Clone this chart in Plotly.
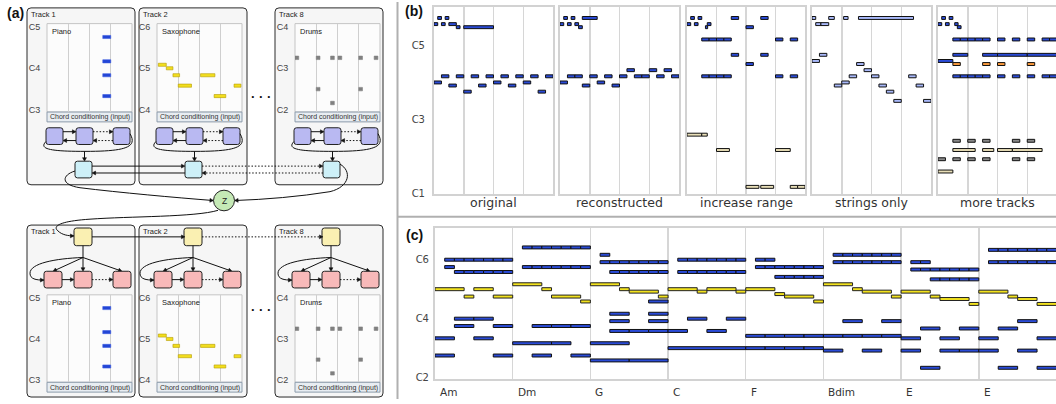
import math
import plotly.graph_objects as go

W, H = 1056, 404
FA = "Liberation Sans"
FB = "DejaVu Sans"

# ---------------- DATA ----------------
# notes are (start, duration, MIDI pitch); panel (a)/(b) time in beats, panel (c) in eighths
A_TRACKS = ["Track 1", "Track 2", "Track 8"]
A_INSTRUMENTS = ["Piano", "Saxophone", "Drums"]
A_PITCH_LABELS = [["C3", "C4", "C5"], ["C4", "C5", "C6"], ["C2", "C3", "C4"]]
A_LOWEST_C = [48, 60, 36]
A_PIANO = [(10.5, 1.5, 69), (10.5, 1.5, 62), (10.5, 1.5, 58), (10.5, 1.5, 52)]
A_SAX = [(0.25, 1.5, 73), (1.75, 1.25, 72), (3, 1.25, 70), (4, 2.5, 67),
         (8.2, 2.7, 70), (10.75, 2.2, 64), (14.5, 1.3, 67)]
A_DRUMS = [(0, 0.7, 51), (4, 0.7, 51), (6.7, 0.7, 51), (8.1, 0.7, 51), (12, 0.7, 51),
           (14.9, 0.7, 51), (4, 0.7, 42), (12, 0.7, 42), (6.7, 0.7, 38)]

B_TITLES = ["original", "reconstructed", "increase range", "strings only", "more tracks"]
B_ORIGINAL = [(0, 0.5, 79), (0.5, 0.5, 81), (1, 0.5, 79), (1.5, 0.5, 81), (2, 1, 79), (3, 0.5, 78), (4, 4, 78),
              (0, 1, 60), (1, 1, 62), (2, 1, 59), (3, 1, 62), (4, 1, 57), (5, 1, 62), (6, 1, 59), (7, 1, 62),
              (8, 1, 60), (9, 1, 62), (10, 1, 59), (11, 1, 62), (12, 1, 60), (13, 1, 62), (14, 1, 57), (15, 1, 62)]
B_RECON = [(0, 0.5, 79), (0.5, 0.5, 81), (1, 0.5, 79), (1.5, 0.5, 81), (2, 0.5, 79), (2.5, 0.5, 78), (3, 2, 81),
           (0, 1, 60), (1, 1, 62), (2, 1, 62), (3, 1, 59), (4, 1, 62), (5, 1, 60), (6, 1, 62), (7, 1, 59),
           (8, 1, 62), (9, 1, 64), (10, 1, 62), (11, 1, 62), (12, 1, 64), (13, 1, 62), (14, 1, 64), (15, 1, 62)]
B_RANGE_BLUE = [(0, 0.5, 79), (0.5, 0.5, 81), (1, 0.5, 79), (1.5, 0.5, 81), (2.5, 0.3, 78), (2.75, 0.5, 79),
                (2, 1, 74), (3, 1, 74), (4, 1, 74), (5, 1, 74), (12, 1, 74), (14, 1, 74),
                (2, 1, 62), (3, 1, 62), (4, 1, 62), (5, 1, 62), (12, 1, 62), (14, 1, 62),
                (6, 1, 81), (10, 1, 81), (8, 1, 78), (6, 1, 69), (10, 1, 69), (8, 1, 66)]
B_RANGE_TAN = [(0, 2, 43), (2, 0.75, 43), (4, 1.75, 38), (12, 2, 38),
               (8, 1.75, 26), (10, 1.75, 26), (14, 1, 26), (15, 1, 26)]
B_STRINGS = [(0, 0.5, 81), (2.25, 0.75, 81), (4.25, 0.6, 81), (6.25, 7.4, 81),
             (0.5, 0.7, 79), (1.2, 1.05, 79), (1, 1, 69), (0, 1, 67), (6, 1, 66), (7, 1, 64),
             (5, 1, 62), (8, 1, 62), (13, 1, 62), (4, 1, 60), (3, 1, 59), (9, 1, 59), (14, 1, 59),
             (10, 1, 57), (11, 1, 54), (15, 1, 54)]
B_MORE_BLUE = [(0, 0.5, 79), (0.5, 0.5, 81), (1, 0.5, 79), (1.5, 0.5, 81), (2.25, 0.45, 79), (2.6, 0.5, 78),
               (2, 1, 74), (3, 1, 74), (4, 1, 74), (5, 1, 74), (6, 1, 74), (8, 1, 74), (10, 1, 74),
               (12, 1, 74), (14, 1, 74), (15, 1, 74),
               (2, 1, 62), (3, 1, 62), (4, 1, 62), (5, 1, 62), (6, 1, 62), (8, 1, 62), (10, 1, 62),
               (12, 1, 62), (14, 1, 62), (15, 1, 62),
               (2, 2, 69), (6, 2, 69), (8, 4, 69), (12, 4, 69), (0, 2, 67)]
B_MORE_ORANGE = [(2, 1, 66), (6, 1, 66), (8, 1, 66), (12, 1, 66)]
B_MORE_GRAY = [(2, 1, 41), (4, 1, 41), (6, 1, 41), (10, 1, 41), (12, 1, 41),
               (0, 1, 35), (2, 1, 35), (4, 1, 35), (6, 1, 35), (10, 1, 35), (12, 1, 35)]
B_MORE_TAN = [(2, 3, 38), (6, 1.5, 38), (8, 2, 38), (10, 4, 38), (0, 2, 31)]

C_CHORDS = ["Am", "Dm", "G", "C", "F", "Bdim", "E", "E"]
C_MELODY = [(0, 3, 72), (3, 1, 69), (4, 2, 72), (6, 2, 69), (8, 3, 74), (11, 1, 72), (12, 3, 69), (15, 1, 67),
            (16, 3, 74), (19, 1, 72), (20, 3, 71), (23, 1, 69), (24, 3, 72), (27, 1, 71), (28, 3, 72), (31, 1, 71),
            (32, 3, 72), (35, 1, 70), (36, 3, 69), (39, 1, 67), (40, 3, 74), (43, 1, 72), (44, 3, 71), (47, 1, 69),
            (48, 3, 71), (51, 1, 69), (52, 3, 68), (55, 1, 66), (56, 3, 71), (59, 1, 69), (60, 2, 68), (62, 2, 66)]
C_UPPER = [(9, 1, 89), (10, 1, 89), (11, 1, 89), (12, 1, 89), (13, 1, 89), (14, 1, 89), (15, 1, 89),
           (57, 1, 88), (58, 1, 88), (59, 1, 88), (60, 1, 88), (61, 1, 88), (62, 1, 88), (63, 1, 88),
           (17, 1, 86), (41, 1, 86), (42, 1, 86), (43, 1, 86), (44, 1, 86), (45, 1, 86), (46, 1, 86), (47, 1, 86),
           (1, 1, 84), (2, 1, 84), (3, 1, 84), (4, 1, 84), (5, 1, 84), (6, 1, 84), (7, 1, 84),
           (25, 1, 84), (26, 1, 84), (27, 1, 84), (28, 1, 84), (29, 1, 84), (30, 1, 84), (31, 1, 84),
           (33, 1, 84), (34, 1, 84),
           (17, 1, 83), (18, 1, 83), (19, 1, 83), (20, 1, 83), (21, 1, 83), (22, 1, 83), (23, 1, 83),
           (41, 1, 83), (42, 1, 83), (43, 1, 83), (44, 1, 83), (45, 1, 83), (46, 1, 83), (47, 1, 83),
           (49, 1, 83), (50, 1, 83),
           (57, 1, 83), (58, 1, 83), (59, 1, 83), (60, 1, 83), (61, 1, 83), (62, 1, 83), (63, 1, 83),
           (1, 1, 81), (9, 1, 81), (10, 1, 81), (11, 1, 81), (12, 1, 81), (13, 1, 81), (14, 1, 81), (15, 1, 81),
           (33, 1, 81), (34, 1, 81), (35, 1, 81), (36, 1, 81), (37, 1, 81), (38, 1, 81), (39, 1, 81),
           (49, 1, 80), (50, 1, 80), (51, 1, 80), (52, 1, 80), (53, 1, 80), (54, 1, 80), (55, 1, 80),
           (2, 1, 79), (3, 1, 79), (4, 1, 79), (5, 1, 79), (6, 1, 79), (7, 1, 79),
           (18, 1, 79), (19, 1, 79), (20, 1, 79), (21, 1, 79), (22, 1, 79), (23, 1, 79),
           (25, 1, 79), (26, 1, 79), (27, 1, 79), (28, 1, 79), (29, 1, 79), (30, 1, 79), (31, 1, 79),
           (35, 1, 77), (36, 1, 77), (37, 1, 77), (38, 1, 77), (39, 1, 77),
           (51, 1, 76), (52, 1, 76), (53, 1, 76), (54, 1, 76), (55, 1, 76)]
C_LOWER = [(22, 2, 67), (18, 2, 62), (22, 2, 62),
           (2, 2, 60), (4, 2, 60), (26, 2, 60), (30, 2, 60),
           (18, 2, 59), (22, 2, 59), (42, 2, 59), (46, 2, 59), (60, 2, 59),
           (2, 2, 57), (6, 2, 57), (10, 2, 57), (12, 2, 57), (14, 2, 57),
           (50, 2, 56), (54, 2, 56), (58, 2, 56),
           (18, 2, 55), (20, 2, 55), (22, 2, 55), (24, 2, 55), (28, 2, 55),
           (32, 2, 53), (34, 2, 53), (36, 2, 53), (38, 2, 53), (40, 2, 53), (42, 2, 53), (44, 2, 53), (46, 2, 53),
           (0, 2, 52), (4, 2, 52), (48, 2, 52), (52, 2, 52), (56, 2, 52), (62, 2, 52),
           (8, 4, 50), (12, 2, 50), (16, 4, 50),
           (24, 8, 48), (32, 2, 48), (34, 2, 48), (36, 2, 48), (38, 2, 48),
           (40, 2, 47), (44, 2, 47), (48, 2, 47), (52, 2, 47), (54, 2, 47), (56, 2, 47), (60, 2, 47),
           (0, 2, 45), (6, 2, 45), (10, 2, 45), (14, 2, 45),
           (16, 4, 43), (20, 4, 43),
           (50, 2, 40), (58, 2, 40), (62, 2, 40)]

# ---------------- helpers ----------------
fig = go.Figure()
layout = {}
shapes = []
annotations = []


def ax(n):
    return "" if n == 1 else str(n)


def set_axes(n, l, t, r, b, xr, yr, xkw=None, ykw=None):
    s = ax(n)
    xd = dict(domain=[l / W, min(r / W, 1.0)], range=xr, anchor="y" + s, fixedrange=True,
              zeroline=False, showticklabels=False, showgrid=False, ticks="")
    yd = dict(domain=[max(1 - b / H, 0.0), 1 - t / H], range=yr, anchor="x" + s, fixedrange=True,
              zeroline=False, showticklabels=False, showgrid=False, ticks="")
    xd.update(xkw or {})
    yd.update(ykw or {})
    layout["xaxis" + s] = xd
    layout["yaxis" + s] = yd


def notes(n, data, fill, line="#111111", lw=1.0, h=0.95):
    s = ax(n)
    fig.add_trace(go.Bar(orientation="h", base=[d[0] for d in data], x=[d[1] for d in data],
                         y=[d[2] for d in data], width=h, xaxis="x" + s, yaxis="y" + s,
                         marker=dict(color=fill, line=dict(color=line, width=lw)),
                         hoverinfo="skip", showlegend=False))


def dshape(**kw):
    kw.setdefault("xref", "x")
    kw.setdefault("yref", "y")
    kw.setdefault("layer", "below")
    shapes.append(kw)


def rrect(x0, y0, x1, y1, fill, line="#222222", lw=1, r=3):
    p = (f"M{x0+r},{y0} L{x1-r},{y0} Q{x1},{y0} {x1},{y0+r} L{x1},{y1-r} Q{x1},{y1} {x1-r},{y1} "
         f"L{x0+r},{y1} Q{x0},{y1} {x0},{y1-r} L{x0},{y0+r} Q{x0},{y0} {x0+r},{y0} Z")
    dshape(type="path", path=p, fillcolor=fill, line=dict(color=line, width=lw))


def rect(x0, y0, x1, y1, fill, line, lw=1):
    dshape(type="rect", x0=x0, y0=y0, x1=x1, y1=y1, fillcolor=fill, line=dict(color=line, width=lw))


def head(x, y, dx, dy, s=3.6):
    L = math.hypot(dx, dy)
    ux, uy = dx / L, dy / L
    bx, by = x - ux * s, y - uy * s
    w = s * 0.55
    p = f"M{x},{y} L{bx - uy * w},{by + ux * w} L{bx + uy * w},{by - ux * w} Z"
    dshape(type="path", path=p, fillcolor="#111111", line=dict(color="#111111", width=0.5))


def arrow(x0, y0, x1, y1, dotted=False, tip=True):
    dx, dy = x1 - x0, y1 - y0
    L = math.hypot(dx, dy)
    ex, ey = (x1 - dx / L * 2.5, y1 - dy / L * 2.5) if tip else (x1, y1)
    dshape(type="line", x0=x0, y0=y0, x1=ex, y1=ey,
           line=dict(color="#111111", width=1, dash="1.5px,1.8px" if dotted else "solid"))
    if tip:
        head(x1, y1, dx, dy)


def curve(path, end=None, d=None):
    dshape(type="path", path=path, fillcolor="rgba(0,0,0,0)", line=dict(color="#111111", width=1))
    if end:
        head(end[0], end[1], d[0], d[1])


def text(x, y, s, size, color="#222222", anchor="left", family=FA, xref="x", yref="y"):
    annotations.append(dict(x=x, y=y, xref=xref, yref=yref, text=s, showarrow=False, xanchor=anchor,
                            yanchor="middle", font=dict(size=size, color=color, family=family)))


# ---------------- panel (a): diagram canvas in pixel units ----------------
set_axes(1, 0, 0, 397, H, [0, 397], [H, 0], dict(visible=False), dict(visible=False))
fig.add_trace(go.Scatter(x=[0], y=[0], mode="markers", marker=dict(opacity=0), xaxis="x", yaxis="y",
                         hoverinfo="skip", showlegend=False))

BOX_X = [27, 139, 275]
OFF = [0, 110, 248]
for k in range(3):
    bx = BOX_X[k]
    rrect(bx, 6, bx + 108, 186, "#f6f6f6", "#2a2a2a", 1, 4)
    rrect(bx, 227, bx + 108, 402, "#f6f6f6", "#2a2a2a", 1, 4)

A_NOTES = [A_PIANO, A_SAX, A_DRUMS]
A_FILL = ["#2346d6", "#f2de1e", "#808080"]
A_LINE = ["#3a5be0", "#b39b00", "#808080"]
A_H = [0.9, 0.9, 1.0]
ROWS = [(22, 112), (298, 387)]
for k in range(3):
    o = OFF[k]
    for ri, (t0, t1) in enumerate(ROWS):
        n = 2 + k + 3 * ri
        rect(47 + o, t0, 132 + o, t1, "#fcfcfc", "#c4c4c4")
        rect(47 + o, t1, 132 + o, t1 + 10, "#e8edf2", "#8c9bab")
        text(89.5 + o, t1 + 5.3, "Chord conditioning (input)", 7, "#333333", "center")
        text(50 + o, t0 + 8, A_INSTRUMENTS[k], 7.5, "#222222")
        low = A_LOWEST_C[k]
        set_axes(n, 47 + o, t0, 132 + o, t1, [0, 16], [low - 0.6, low + 24.85],
                 dict(showgrid=True, tickvals=[4, 8, 12], gridcolor="#cfcfcf", gridwidth=1),
                 dict(showticklabels=True, tickvals=[low, low + 12, low + 24], ticktext=A_PITCH_LABELS[k],
                      ticks="outside", ticklen=4, tickcolor="rgba(0,0,0,0)",
                      tickfont=dict(family=FA, size=9, color="#444444")))
        notes(n, A_NOTES[k], A_FILL[k], A_LINE[k], 0.6, A_H[k])
    text(BOX_X[k] + 2, 13, A_TRACKS[k], 7.5, "#222222")
    text(BOX_X[k] + 2, 234, A_TRACKS[k], 7.5, "#222222")

# encoder
for k in range(3):
    o = OFF[k]
    for (x0, x1) in [(46, 63), (76, 93), (113, 130)]:
        rrect(x0 + o, 128, x1 + o, 145, "#b9b9f2", "#222222", 1, 2.5)
    arrow(63 + o, 132, 76 + o, 132)
    arrow(76 + o, 141, 63 + o, 141)
    arrow(93 + o, 132, 113 + o, 132, dotted=True)
    arrow(113 + o, 141, 93 + o, 141, dotted=True)
    curve(f"M{130+o},134 C{138+o},148 {125+o},152 {85+o},152 C{52+o},152 {38+o},150 {46+o},142")
    arrow(84.5 + o, 152, 84.5 + o, 162)
    rrect(75 + o, 162, 92 + o, 179, "#cdf0f8", "#222222", 1, 2.5)
arrow(92, 167, 185, 167)
arrow(185, 174, 92, 174)
arrow(202, 167, 323, 167, dotted=True)
arrow(323, 174, 202, 174, dotted=True)
curve("M75,172 C62,176 60,186 80,189 C120,194 175,199 213,202", (213.5, 202), (1, 0.05))
curve("M340,165 C352,172 350,188 330,193 C300,198 265,201 235,202", (234.5, 202), (-1, 0.03))
dshape(type="circle", x0=213.5, y0=191.5, x1=234.5, y1=212.5, fillcolor="#c5e9b6",
       line=dict(color="#222222", width=1))
text(224, 202, "Z", 8.5, "#222222", "center")

# decoder
curve("M218,212 C195,219 130,218 90,221 C60,223 52,228 58,233 C62,237 68,238 74,238", (74, 238), (1, 0))
for k in range(3):
    o = OFF[k]
    rrect(74 + o, 230, 92 + o, 248, "#faf0b2", "#222222", 1, 2.5)
    arrow(83 + o, 248, 83 + o, 260, tip=False)
    arrow(83 + o, 260, 53 + o, 274)
    arrow(83 + o, 260, 83 + o, 274)
    arrow(83 + o, 260, 122 + o, 274)
    curve(f"M{83+o},260 C{55+o},261 {30+o},266 {30+o},276 C{30+o},282 {36+o},283 {44+o},283",
          (44 + o, 283), (1, 0))
    for (x0, x1) in [(44, 62), (74, 92), (113, 131)]:
        rrect(x0 + o, 274, x1 + o, 291, "#f8b9b9", "#222222", 1, 2.5)
    arrow(62 + o, 282.5, 74 + o, 282.5)
    arrow(92 + o, 282.5, 113 + o, 282.5, dotted=True)
arrow(92, 239, 185, 239)
arrow(202, 239, 323, 239, dotted=True)
text(261, 96, "<b>· · ·</b>", 13, "#111111", "center")
text(261, 313, "<b>· · ·</b>", 13, "#111111", "center")

# ---------------- panel (b) ----------------
B_BOX = [(434, 553), (560, 679), (687, 805), (812, 931), (938, 1057)]
for i, (l, r) in enumerate(B_BOX):
    n = 8 + i
    last = i == 4
    xr = [0, 16 * (min(r, W) - l) / (r - l)]
    ykw = dict(showline=True, mirror=not last, linecolor="#d2d2d2", linewidth=2)
    if i == 0:
        ykw.update(showticklabels=True, tickvals=[24, 48, 72], ticktext=["C1", "C3", "C5"], ticks="outside",
                   ticklen=5, tickcolor="rgba(0,0,0,0)", tickfont=dict(family=FB, size=10, color="#444444"))
    set_axes(n, l, 5, min(r, W), 195, xr, [23.8, 84.6],
             dict(showgrid=True, tickvals=[4, 8, 12], gridcolor="#d6d6d6", gridwidth=1.5,
                  showline=True, mirror=True, linecolor="#d2d2d2", linewidth=2), ykw)
    text(0.5, 1 - 204 / H, B_TITLES[i], 12.5, "#333333", "center", FB, xref=f"x{n} domain", yref="paper")

BLUE = "#2a4bd7"
notes(8, B_ORIGINAL, BLUE)
notes(9, B_RECON, BLUE)
notes(10, B_RANGE_TAN, "#e9dfb8")
notes(10, B_RANGE_BLUE, BLUE)
notes(11, B_STRINGS, "#a9b9fa")
notes(12, B_MORE_TAN, "#e9dfb8")
notes(12, B_MORE_GRAY, "#8a8a8a")
notes(12, B_MORE_ORANGE, "#fb9a3c")
notes(12, B_MORE_BLUE, BLUE)

# ---------------- panel (c) ----------------
set_axes(13, 435, 230, 1056, 384, [0, 63.95], [35.3, 96.9],
         dict(showgrid=True, tickvals=[8, 16, 24, 32, 40, 48, 56], gridcolor="#d6d6d6", gridwidth=1.5,
              showline=True, mirror=True, linecolor="#d2d2d2", linewidth=2),
         dict(showline=True, mirror=False, linecolor="#d2d2d2", linewidth=2, showticklabels=True,
              tickvals=[36, 60, 84], ticktext=["C2", "C4", "C6"], ticks="outside", ticklen=2,
              tickcolor="rgba(0,0,0,0)", tickfont=dict(family=FB, size=10, color="#444444")))
notes(13, C_LOWER, BLUE, h=1.2)
notes(13, C_UPPER, BLUE, h=1.2)
notes(13, C_MELODY, "#f2e21e", "#222222", h=1.2)
for i, ch in enumerate(C_CHORDS):
    annotations.append(dict(x=i * 8, y=1 - 397 / H, xref="x13", yref="paper", text=ch, showarrow=False,
                            xanchor="left", yanchor="middle", xshift=3,
                            font=dict(family=FB, size=10.5, color="#333333")))

for s, x, y in [("(a)", 15, 11), ("(b)", 414, 9), ("(c)", 414, 237)]:
    annotations.append(dict(x=x / W, y=1 - y / H, xref="paper", yref="paper", text=f"<b>{s}</b>",
                            showarrow=False, xanchor="center", yanchor="middle",
                            font=dict(family=FA, size=14, color="#111111")))
shapes.append(dict(type="line", xref="paper", yref="paper", x0=397.5 / W, x1=397.5 / W, y0=0, y1=1,
                   line=dict(color="#b0b0b0", width=2)))
shapes.append(dict(type="line", xref="paper", yref="paper", x0=397.5 / W, x1=1, y0=1 - 218.5 / H,
                   y1=1 - 218.5 / H, line=dict(color="#b0b0b0", width=2)))

fig.update_layout(width=W, height=H, autosize=False, margin=dict(l=0, r=0, t=0, b=0),
                  paper_bgcolor="white", plot_bgcolor="rgba(0,0,0,0)", barmode="overlay",
                  showlegend=False, shapes=shapes, annotations=annotations, **layout)
fig.write_html("out.html", config={"displayModeBar": False, "staticPlot": True},
               post_script="document.body.style.margin='0px';document.body.style.overflow='hidden';")
